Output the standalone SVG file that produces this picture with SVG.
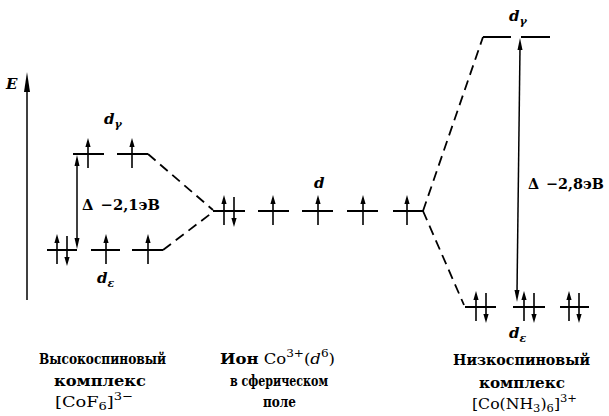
<svg xmlns="http://www.w3.org/2000/svg" width="609" height="416" viewBox="0 0 609 416">
<style>
.lv{stroke:#000;stroke-width:2;fill:none}
.ds{stroke:#000;stroke-width:1.8;fill:none;stroke-dasharray:10 6}
.ax{stroke:#000;stroke-width:1.5;fill:none}
.t{font-family:"DejaVu Serif",serif;font-size:15px;fill:#000}
.b{font-weight:bold}
.it{font-style:italic}
.dl{font-family:"DejaVu Serif",serif;font-style:italic;font-weight:bold;font-size:15px;fill:#000}
.sub{font-size:11px}
</style>
<defs>
<g id="up"><line x1="0" y1="14" x2="0" y2="-9" stroke="#000" stroke-width="1.6"/><polygon points="0,-16 -2.6,-7 2.6,-7" fill="#000"/></g>
<g id="dn"><line x1="0" y1="-14" x2="0" y2="9" stroke="#000" stroke-width="1.6"/><polygon points="0,16 -2.6,7 2.6,7" fill="#000"/></g>
</defs>

<g id="axis">
<line class="ax" x1="27" y1="300" x2="27" y2="82"/>
<polygon points="27,72 24,92 30,92" fill="#000"/>
<text x="6" y="89" class="t it b" font-size="16">E</text>
</g>

<g id="left-dgamma">
<line class="lv" x1="73" y1="154" x2="104" y2="154"/>
<line class="lv" x1="117" y1="154" x2="148" y2="154"/>
<use href="#up" x="88" y="154"/>
<use href="#up" x="132" y="154"/>
<text x="104" y="124" class="dl">d<tspan class="sub" dy="4">γ</tspan></text>
</g>

<g id="left-deps">
<line class="lv" x1="47" y1="250" x2="77" y2="250"/>
<line class="lv" x1="91" y1="250" x2="120" y2="250"/>
<line class="lv" x1="132" y1="250" x2="163" y2="250"/>
<use href="#up" x="57" y="250"/>
<use href="#dn" x="67" y="250"/>
<use href="#up" x="106" y="250"/>
<use href="#up" x="148" y="250"/>
<text x="97" y="283" class="dl">d<tspan class="sub" dy="4">ε</tspan></text>
</g>

<g id="left-delta">
<line class="ax" x1="77" y1="164" x2="77" y2="240"/>
<polygon points="77,155 74.5,166 79.5,166" fill="#000"/>
<polygon points="77,249 74.5,238 79.5,238" fill="#000"/>
<text x="82" y="210" class="t b" textLength="78" lengthAdjust="spacingAndGlyphs">Δ <tspan dx="2">−2,1эВ</tspan></text>
</g>

<g id="center">
<line class="lv" x1="213" y1="211" x2="245" y2="211"/>
<line class="lv" x1="258" y1="211" x2="289" y2="211"/>
<line class="lv" x1="302" y1="211" x2="333" y2="211"/>
<line class="lv" x1="347" y1="211" x2="378" y2="211"/>
<line class="lv" x1="393" y1="211" x2="423" y2="211"/>
<use href="#up" x="224" y="211"/>
<use href="#dn" x="234" y="211"/>
<use href="#up" x="273" y="211"/>
<use href="#up" x="318" y="211"/>
<use href="#up" x="363" y="211"/>
<use href="#up" x="407" y="211"/>
<text x="314" y="188" class="dl">d</text>
</g>

<g id="right-dgamma">
<line class="lv" x1="483" y1="37" x2="511" y2="37"/>
<line class="lv" x1="521" y1="37" x2="550" y2="37"/>
<text x="509" y="21" class="dl">d<tspan class="sub" dy="4">γ</tspan></text>
</g>

<g id="right-deps">
<line class="lv" x1="465" y1="307" x2="496" y2="307"/>
<line class="lv" x1="513" y1="307" x2="545" y2="307"/>
<line class="lv" x1="560" y1="307" x2="589" y2="307"/>
<use href="#up" x="476" y="307"/>
<use href="#dn" x="486" y="307"/>
<use href="#up" x="524" y="307"/>
<use href="#dn" x="534" y="307"/>
<use href="#up" x="569" y="307"/>
<use href="#dn" x="579" y="307"/>
<text x="509" y="338" class="dl">d<tspan class="sub" dy="4">ε</tspan></text>
</g>

<g id="right-delta">
<line class="ax" x1="520" y1="48" x2="517" y2="292"/>
<polygon points="520,38 517.5,50 522.5,50" fill="#000"/>
<polygon points="517,302 514.5,290 519.5,290" fill="#000"/>
<text x="528" y="189" class="t b" textLength="76" lengthAdjust="spacingAndGlyphs">Δ <tspan dx="2">−2,8эВ</tspan></text>
</g>

<g id="connectors">
<polyline class="ds" points="148,154 213,210"/>
<polyline class="ds" points="163,250 213,212"/>
<polyline class="ds" points="423,211 483,37"/>
<polyline class="ds" points="423,211 464,305"/>
</g>

<g id="labels">
<text x="39" y="364" class="t b" textLength="127" lengthAdjust="spacingAndGlyphs">Высокоспиновый</text>
<text x="54" y="386" class="t b" textLength="92" lengthAdjust="spacingAndGlyphs">комплекс</text>
<text x="55" y="407" class="t" textLength="78" lengthAdjust="spacingAndGlyphs">[CoF<tspan class="sub" dy="3">6</tspan><tspan dy="-3">]</tspan><tspan class="sub" dy="-7">3−</tspan></text>
<text x="220" y="364" class="t" textLength="115" lengthAdjust="spacingAndGlyphs"><tspan class="b">Ион</tspan> Co<tspan class="sub" dy="-7">3+</tspan><tspan dy="7">(</tspan><tspan class="it">d</tspan><tspan class="sub" dy="-7">6</tspan><tspan dy="7">)</tspan></text>
<text x="230" y="386" class="t b" textLength="98" lengthAdjust="spacingAndGlyphs">в сферическом</text>
<text x="263" y="407" class="t b" textLength="33" lengthAdjust="spacingAndGlyphs">поле</text>
<text x="453" y="365" class="t b" textLength="137" lengthAdjust="spacingAndGlyphs">Низкоспиновый</text>
<text x="479" y="388" class="t b" textLength="86" lengthAdjust="spacingAndGlyphs">комплекс</text>
<text x="472" y="409" class="t" textLength="105" lengthAdjust="spacingAndGlyphs">[Co(NH<tspan class="sub" dy="3">3</tspan><tspan dy="-3">)</tspan><tspan class="sub" dy="3">6</tspan><tspan dy="-3">]</tspan><tspan class="sub" dy="-7">3+</tspan></text>
</g>
</svg>
